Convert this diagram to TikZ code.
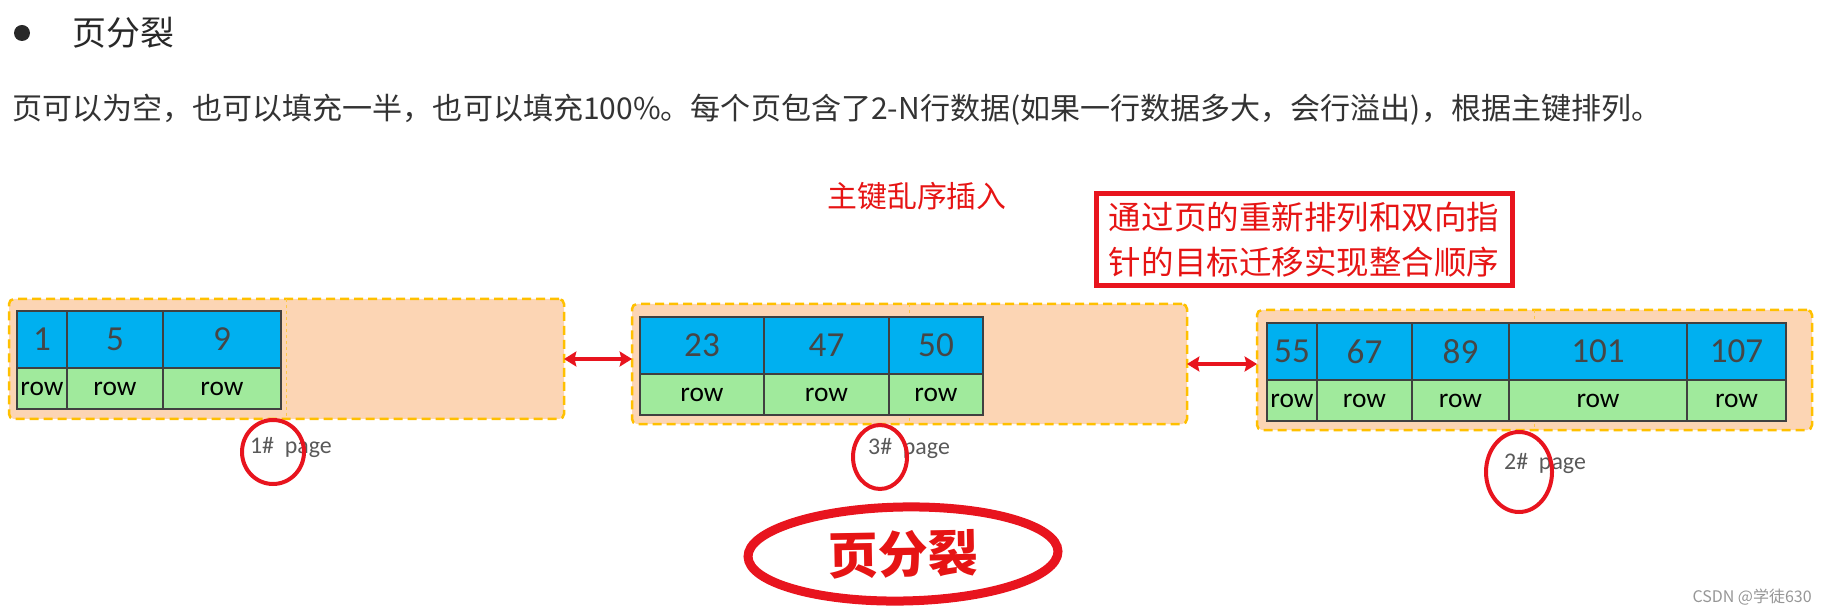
\documentclass[tikz,border=0pt]{standalone}
\usepackage{fontspec}
\setmainfont{Carlito}
\newfontfamily\cjk{Noto Sans CJK SC}
\usetikzlibrary{arrows.meta, positioning, shapes.geometric}
\newlength{\unitpx}
\setlength{\unitpx}{0.02cm}
\definecolor{keyblue}{RGB}{0,176,240}
\definecolor{rowgreen}{RGB}{160,234,156}
\definecolor{pagefill}{RGB}{252,213,180}
\definecolor{pagedash}{RGB}{255,192,0}
\definecolor{markred}{RGB}{232,20,30}
\definecolor{txtred}{RGB}{230,20,20}
\definecolor{numgray}{RGB}{70,70,70}
\definecolor{celledge}{RGB}{64,64,64}
\definecolor{lblgray}{RGB}{89,89,89}
\definecolor{headgray}{RGB}{40,40,40}
\definecolor{bodygray}{RGB}{51,51,51}
\definecolor{wmgray}{RGB}{150,150,150}
\tikzset{
  pagebox/.style={rectangle, draw=pagedash, fill=pagefill, line width=2.5\unitpx,
    dash pattern=on 9\unitpx off 5\unitpx, rounded corners=5\unitpx,
    minimum width=555\unitpx, minimum height=120\unitpx,
    anchor=north west, inner sep=0pt, outer sep=0pt},
  midline/.style={draw=pagedash!60!pagefill, line width=1\unitpx,
    dash pattern=on 3\unitpx off 3\unitpx},
  keycell/.style={rectangle, draw=celledge, fill=keyblue, line width=1.5\unitpx,
    anchor=north west, minimum height=57\unitpx, inner sep=0pt, outer sep=0pt,
    text=numgray, font=\fontsize{20}{22}\selectfont},
  rowcell/.style={rectangle, draw=celledge, fill=rowgreen, line width=1.5\unitpx,
    minimum height=41\unitpx, inner sep=0pt, outer sep=0pt,
    text=black, font=\fontsize{15.6}{18}\selectfont},
  pagelbl/.style={text=lblgray, font=\fontsize{13.6}{16}\selectfont, inner sep=0pt},
  ringmark/.style={ellipse, draw=markred, line width=4\unitpx, inner sep=0pt},
  bigmark/.style={ellipse, draw=markred, line width=9\unitpx, inner sep=0pt,
    minimum width=310\unitpx, minimum height=94\unitpx,
    text=txtred, font=\cjk\bfseries\fontsize{28.5}{32}\selectfont},
  notebox/.style={rectangle, draw=markred, line width=5\unitpx, inner sep=0pt,
    minimum width=416\unitpx, minimum height=92\unitpx, align=center,
    text=txtred, font=\cjk\fontsize{18.5}{25.6}\selectfont},
  linkarrow/.style={{Stealth[length=7pt,width=8.5pt,inset=1pt]}-{Stealth[length=7pt,width=8.5pt,inset=1pt]},
    draw=markred, line width=2.3pt}
}
\begin{document}
\begin{tikzpicture}[x=\unitpx, y=-\unitpx]
  \useasboundingbox (0,0) rectangle (1824,614);

  % heading and text
  \node[circle, fill=headgray, minimum size=16\unitpx, inner sep=0pt] (dot) at (22,33) {};
  \node[anchor=west, inner sep=0pt, text=headgray, font=\cjk\fontsize{19.3}{22}\selectfont] (head) at (72,33) {页分裂};
  \node[anchor=west, inner sep=0pt, text=bodygray, font=\cjk\fontsize{17.1}{20}\selectfont] (desc) at (12,110)
    {页可以为空，也可以填充一半，也可以填充100\%。每个页包含了2-N行数据(如果一行数据多大，会行溢出)，根据主键排列。};
  \node[text=txtred, inner sep=0pt, font=\cjk\fontsize{17}{20}\selectfont] (title) at (917,196) {主键乱序插入};
  \node[notebox] (note) at (1304,240) {通过页的重新排列和双向指\\针的目标迁移实现整合顺序};

  % pages
  \node[pagebox] (p1) at (9,299) {};
  \node[pagebox] (p3) at (632,304) {};
  \node[pagebox] (p2) at (1257,310) {};
  \foreach \p in {p1,p3,p2}
    \draw[midline] (\p.north) -- (\p.south);

  % 1# page
  \foreach \v/\xa/\xb [count=\i] in {1/17/67, 5/67/163, 9/163/281}{
    \node[keycell, minimum width={(\xb-\xa)*\unitpx}] (a\i) at (\xa,311) {\v};
    \node[rowcell, minimum width={(\xb-\xa)*\unitpx}, below=0pt of a\i] (ar\i) {row};
  }
  % 3# page
  \foreach \v/\xa/\xb [count=\i] in {23/640/764, 47/764/889, 50/889/983}{
    \node[keycell, minimum width={(\xb-\xa)*\unitpx}] (b\i) at (\xa,317) {\v};
    \node[rowcell, minimum width={(\xb-\xa)*\unitpx}, below=0pt of b\i] (br\i) {row};
  }
  % 2# page
  \foreach \v/\xa/\xb [count=\i] in {55/1267/1317, 67/1317/1412, 89/1412/1509, 101/1509/1687, 107/1687/1786}{
    \node[keycell, minimum width={(\xb-\xa)*\unitpx}] (c\i) at (\xa,323) {\v};
    \node[rowcell, minimum width={(\xb-\xa)*\unitpx}, below=0pt of c\i] (cr\i) {row};
  }
  \draw[celledge, line width=2.5\unitpx] (c2.north east) -- (cr2.south east);

  % labels
  \node[pagelbl] (l1) at (291,447) {1\#\ \ page};
  \node[pagelbl] (l3) at (909,448) {3\#\ \ page};
  \node[pagelbl] (l2) at (1545,463) {2\#\ \ page};
  \node[ringmark, minimum width=62\unitpx, minimum height=64\unitpx] (r1) at (273,452) {};
  \node[ringmark, minimum width=54\unitpx, minimum height=64\unitpx] (r3) at (880,457) {};
  \node[ringmark, minimum width=66\unitpx, minimum height=80\unitpx] (r2) at (1519,472) {};

  % links
  \draw[linkarrow] (p1.east) -- (p1.east -| p3.west);
  \draw[linkarrow] (p3.east) -- (p3.east -| p2.west);

  \node[bigmark, rotate=1] (split) at (903,554) {页分裂};
  \node[anchor=east, inner sep=0pt, text=wmgray, font=\cjk\fontsize{9.1}{11}\selectfont] (wm) at (1812,597) {CSDN @学徒630};
\end{tikzpicture}
\end{document}
